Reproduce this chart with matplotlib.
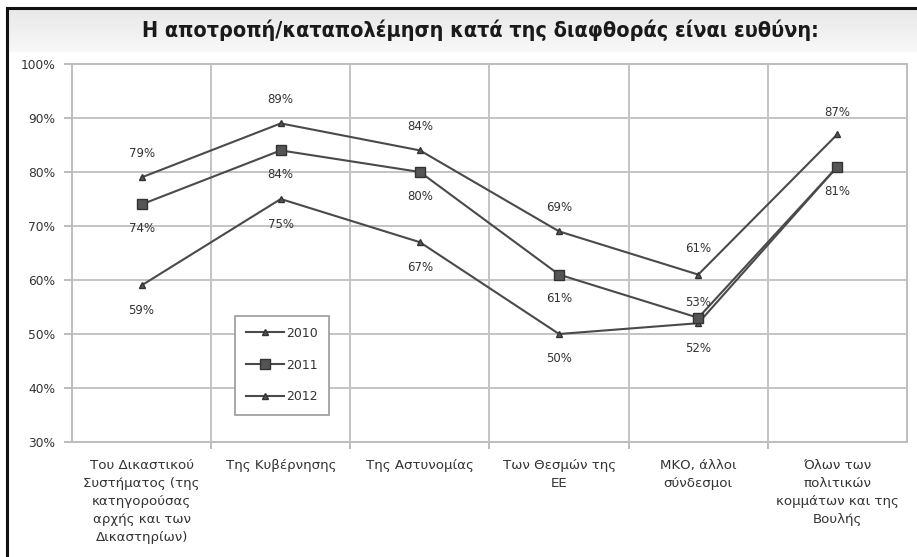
import matplotlib
matplotlib.use("Agg")
import matplotlib.pyplot as plt
import numpy as np
from matplotlib.lines import Line2D

# ---------------- data ----------------
title = "Η αποτροπή/καταπολέμηση κατά της διαφθοράς είναι ευθύνη:"
categories = [
    "Του Δικαστικού\nΣυστήματος (της\nκατηγορούσας\nαρχής και των\nΔικαστηρίων)",
    "Της Κυβέρνησης",
    "Της Αστυνομίας",
    "Των Θεσμών της\nΕΕ",
    "ΜΚΟ, άλλοι\nσύνδεσμοι",
    "Όλων των\nπολιτικών\nκομμάτων και της\nΒουλής",
]
years = ["2010", "2011", "2012"]
values_2010 = [59, 75, 67, 50, 52, 81]
values_2011 = [74, 84, 80, 61, 53, 81]
values_2012 = [79, 89, 84, 69, 61, 87]
y_ticks = [30, 40, 50, 60, 70, 80, 90, 100]
y_tick_labels = ["30%", "40%", "50%", "60%", "70%", "80%", "90%", "100%"]

# ---------------- style ----------------
W, H = 917, 557
DPI = 100
fig = plt.figure(figsize=(W / DPI, H / DPI), dpi=DPI, facecolor="white")

# title band (gradient)
band = fig.add_axes([8 / W, 1 - 52 / H, 1 - 8 / W, 42 / H])
grad = np.linspace(0.91, 0.975, 64).reshape(-1, 1)
band.imshow(np.dstack([grad, grad, grad]), aspect="auto", extent=[0, 1, 0, 1], origin="upper")
band.set_axis_off()
fig.text(0.524, 1 - 30 / H, title, ha="center", va="center",
         fontsize=15.5, fontweight="bold", fontstretch="condensed",
         family=["DejaVu Sans"], color="#1a1a1a")

# black frame
fig.add_artist(Line2D([7 / W, 7 / W], [0, 1 - 8 / H], color="#111111", lw=2.2))
fig.add_artist(Line2D([7 / W, 1], [1 - 8 / H, 1 - 8 / H], color="#111111", lw=2.2))

ax = fig.add_axes([72 / W, 1 - 442 / H, 835 / W, 378 / H])
ax.set_facecolor("white")
x = np.arange(len(categories))
line_col = "#4a4a4a"
series = [values_2010, values_2011, values_2012]
markers = ["^", "s", "^"]
msizes = [5, 6.5, 5]
# label offsets (px) per series per point; None -> no label
offsets = [
    [-25, -25, -25, -25, -25, None],
    [-24, -24, -24, -24, 15, -25],
    [24, 24, 24, 24, 26, 22],
]
for name, vals, mk, ms, offs in zip(years, series, markers, msizes, offsets):
    ax.plot(x, vals, color=line_col, lw=1.5, marker=mk, markersize=ms,
            markerfacecolor="#555555", markeredgecolor="#333333", label=name, zorder=3)
    for xi, v, o in zip(x, vals, offs):
        if o is None:
            continue
        ax.annotate(f"{v}%", (xi, v), xytext=(0, o * 0.72), textcoords="offset points",
                    ha="center", va="center", fontsize=8.5, color="#333333")

ax.set_xlim(-0.5, len(categories) - 0.5)
ax.set_ylim(30, 100)
ax.set_yticks(y_ticks)
ax.set_yticklabels(y_tick_labels, fontsize=8.8, color="#333333")
ax.set_xticks(x)
ax.set_xticklabels(categories, fontsize=9.6, color="#333333", linespacing=1.5, va="top")
ax.tick_params(axis="x", length=0, pad=12)
ax.tick_params(axis="y", length=6, color="#b0b0b0", width=1.2, pad=6)
ax.set_xticks(np.arange(0.5, len(categories) - 0.5, 1.0), minor=True)
ax.tick_params(axis="x", which="minor", length=5, color="#b0b0b0", width=1.2)
ax.grid(axis="y", which="major", color="#c4c4c4", lw=1.4)
ax.grid(axis="x", which="minor", color="#c4c4c4", lw=1.4)
for s in ax.spines.values():
    s.set_color("#bdbdbd")
    s.set_linewidth(1.4)

leg = ax.legend(loc="lower left", bbox_to_anchor=(0.188, 0.056), fontsize=9,
                labelspacing=1.5, handlelength=3.0, handletextpad=0.2,
                borderpad=0.9, fancybox=False, framealpha=1, edgecolor="#9a9a9a")
leg.get_frame().set_linewidth(1.2)
for t in leg.get_texts():
    t.set_color("#333333")

fig.savefig("out.png", dpi=DPI, facecolor="white")
